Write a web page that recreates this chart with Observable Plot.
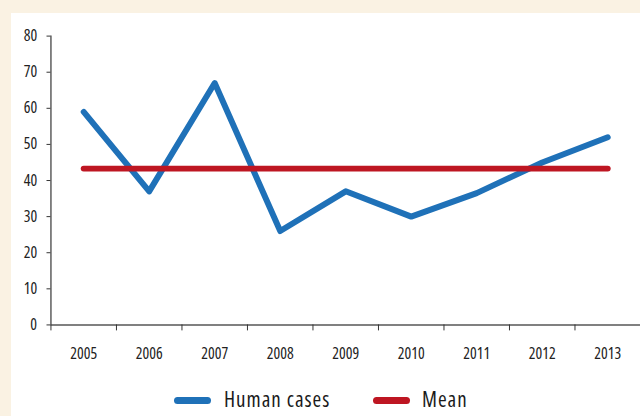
<!DOCTYPE html>
<html>
<head>
<meta charset="utf-8">
<script src="https://cdn.jsdelivr.net/npm/d3@7"></script>
<script src="https://cdn.jsdelivr.net/npm/@observablehq/plot@0.6"></script>
<style>
  html, body { margin: 0; padding: 0; background: #FAF2E3; }
  #wrap { position: relative; width: 640px; height: 416px; overflow: hidden; background: #FAF2E3; }
  #panel { position: absolute; left: 11px; top: 13px; right: 0; bottom: 0; background: #ffffff; }
  #chart { position: absolute; left: 0; top: 0; }
  #chart svg text { font-stretch: 75%; }
  #legend { position: absolute; left: 0; top: 384px; width: 640px; height: 30px;
            font-family: 'Open Sans', 'DejaVu Sans Condensed', sans-serif;
            font-stretch: 75%; letter-spacing: 1px;
            font-size: 21px; color: #1a1a1a; }
  .sw { position: absolute; height: 7px; border-radius: 4px; }
  .lt { position: absolute; top: 0; line-height: 30px; white-space: nowrap; }
</style>
</head>
<body>
<div id="wrap">
  <div id="panel"></div>
  <div id="chart"></div>
  <div id="legend"></div>
</div>
<script>
const years = [2005, 2006, 2007, 2008, 2009, 2010, 2011, 2012, 2013];
const humanCases = [59, 37, 67, 26, 37, 30, 36.5, 45, 52];
const meanValue = 43.3;
const yTicks = [0, 10, 20, 30, 40, 50, 60, 70, 80];
const seriesNames = ["Human cases", "Mean"];
const seriesColors = ["#1F71B8", "#BE1622"];

const table = years.map((year, i) => ({year, cases: humanCases[i], mean: meanValue}));
const boundaries = years.map(y => y - 0.5);

const chart = Plot.plot({
  width: 647,
  height: 360,
  marginLeft: 51,
  marginRight: 0,
  marginTop: 36,
  marginBottom: 32,
  x: {type: "linear", domain: [years[0] - 0.5, years[years.length - 1] + 0.5]},
  y: {domain: [0, 80]},
  style: {
    fontFamily: "'Open Sans', 'DejaVu Sans Condensed', sans-serif",
    fontSize: "16px",
    color: "#222",
    background: "transparent",
    overflow: "visible"
  },
  marks: [
    Plot.ruleY([0], {stroke: "#808080", strokeWidth: 2}),
    Plot.ruleX([boundaries[0]], {y1: 0, y2: 80, stroke: "#333", strokeWidth: 1.2}),
    Plot.axisY(yTicks, {tickSize: 4, tickPadding: 10, label: null, stroke: "#333"}),
    Plot.axisX(boundaries, {tickSize: 6, tickFormat: () => "", label: null, stroke: "#333"}),
    Plot.axisX(years, {tickSize: 0, tickPadding: 23, label: null, tickFormat: d => String(d)}),
    Plot.line(table, {x: "year", y: "cases", stroke: seriesColors[0], strokeWidth: 6,
      strokeLinecap: "round", strokeLinejoin: "round"}),
    Plot.line(table, {x: "year", y: "mean", stroke: seriesColors[1], strokeWidth: 6,
      strokeLinecap: "round", strokeLinejoin: "round"})
  ]
});
document.getElementById("chart").appendChild(chart);

const legend = document.getElementById("legend");
const swatchLeft = [174, 373];
const textLeft = [224, 422];
seriesNames.forEach((name, i) => {
  const sw = document.createElement("div");
  sw.className = "sw";
  sw.style.left = swatchLeft[i] + "px";
  sw.style.width = "37px";
  sw.style.top = "13px";
  sw.style.background = seriesColors[i];
  legend.appendChild(sw);
  const t = document.createElement("div");
  t.className = "lt";
  t.style.left = textLeft[i] + "px";
  t.textContent = name;
  legend.appendChild(t);
});
</script>
</body>
</html>
